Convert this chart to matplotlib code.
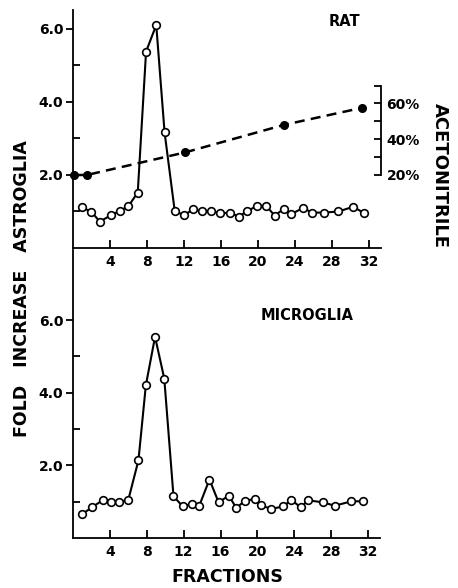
import matplotlib
matplotlib.use("Agg")
import matplotlib.pyplot as plt
from matplotlib.ticker import FixedLocator

# astroglia (rat) - fold increase per fraction
astro_frac = [1.0, 2.0, 2.9, 4.1, 5.1, 6.0, 7.0, 7.9, 9.0, 9.9, 11.0, 12.0, 13.0, 13.9, 14.9,
              15.9, 17.0, 17.9, 18.8, 19.9, 20.9, 21.8, 22.8, 23.6, 24.9, 25.8, 27.1, 28.7, 30.3, 31.5]
astro_fold = [1.11, 0.99, 0.72, 0.90, 1.02, 1.15, 1.52, 5.38, 6.11, 3.17, 1.01, 0.90, 1.06, 1.00, 1.02,
              0.95, 0.97, 0.86, 1.00, 1.16, 1.15, 0.89, 1.07, 0.93, 1.10, 0.97, 0.97, 1.00, 1.13, 0.95]

# microglia - fold increase per fraction
micro_frac = [1.0, 2.1, 3.2, 4.1, 5.0, 6.0, 7.1, 7.9, 8.9, 9.9, 10.9, 11.9, 12.9, 13.7, 14.8,
              15.8, 16.9, 17.7, 18.7, 19.7, 20.4, 21.5, 22.8, 23.7, 24.7, 25.5, 27.1, 28.4, 30.2, 31.5]
micro_fold = [0.66, 0.85, 1.04, 0.98, 0.99, 1.05, 2.14, 4.20, 5.54, 4.39, 1.15, 0.87, 0.94, 0.89, 1.61,
              0.98, 1.17, 0.83, 1.03, 1.07, 0.90, 0.80, 0.87, 1.05, 0.84, 1.04, 0.98, 0.89, 1.01, 1.01]

# acetonitrile gradient
acn_frac = [0.1, 1.5, 12.1, 22.8, 31.2]
acn_pct = [20, 20, 32.6, 48, 57.5]

x_ticks = [4, 8, 12, 16, 20, 24, 28, 32]
y_ticks = [2.0, 4.0, 6.0]
acn_ticks = [20, 40, 60]

FONT = "DejaVu Sans"
plt.rcParams["font.family"] = FONT
plt.rcParams["font.weight"] = "bold"

W, H = 458, 588
fig = plt.figure(figsize=(W / 100, H / 100), dpi=100)


def px_axes(left, top, right, bottom):
    return fig.add_axes([left / W, 1 - bottom / H, (right - left) / W, (bottom - top) / H])


def style(ax, ymax):
    ax.set_xlim(0, 33.3)
    ax.set_ylim(0, ymax)
    ax.patch.set_visible(False)
    for s in ["top", "right"]:
        ax.spines[s].set_visible(False)
    for s in ["left", "bottom"]:
        ax.spines[s].set_linewidth(1.3)
    ax.set_xticks(x_ticks)
    ax.set_xticklabels([str(t) for t in x_ticks])
    ax.set_yticks(y_ticks)
    ax.set_yticklabels(["%.1f" % t for t in y_ticks])
    ax.yaxis.set_minor_locator(FixedLocator([1, 3, 5]))
    ax.tick_params(axis="x", direction="in", length=6, width=1.3, pad=5, labelsize=10)
    ax.tick_params(axis="y", which="major", direction="out", length=5, width=1.3, pad=2, labelsize=10)
    ax.tick_params(axis="y", which="minor", direction="in", length=5, width=1.3)


line_kw = dict(color="black", lw=1.5, marker="o", markersize=5.5,
               markerfacecolor="white", markeredgecolor="black", markeredgewidth=1.2)

# top panel: rat astroglia
ax1 = px_axes(73, 10, 381, 248)
style(ax1, 6.52)
ax1.plot(astro_frac, astro_fold, zorder=3, **line_kw)
ax1.text(344, H - 22, "RAT", transform=None, fontsize=10.5, ha="center", va="center")

# acetonitrile on a right-hand axis
ax2 = ax1.twinx()
k = 40 / 1.96
ax2.set_ylim(20 - 2 * k, 20 + 4.52 * k)
for s in ["top", "left", "bottom"]:
    ax2.spines[s].set_visible(False)
ax2.spines["right"].set_bounds(20, 70)
ax2.spines["right"].set_linewidth(1.3)
ax2.set_yticks(acn_ticks)
ax2.set_yticklabels(["%d%%" % t for t in acn_ticks])
ax2.yaxis.set_minor_locator(FixedLocator([30, 50, 70]))
ax2.tick_params(axis="y", which="both", direction="in", length=5, width=1.3, pad=4, labelsize=10)
ax2.plot(acn_frac, acn_pct, color="black", lw=1.8, dashes=(4, 2.5), marker="o",
         markersize=5.5, markerfacecolor="black", clip_on=False, zorder=4)

# bottom panel: microglia
ax3 = px_axes(73, 250, 380, 538)
style(ax3, 7.93)
ax3.plot(micro_frac, micro_fold, zorder=3, **line_kw)
ax3.text(307, H - 315, "MICROGLIA", transform=None, fontsize=10.5, ha="center", va="center")

fig.text(22 / W, 1 - 289 / H, "FOLD   INCREASE   ASTROGLIA", rotation=90,
         ha="center", va="center", fontsize=12.5)
fig.text(440 / W, 1 - 175 / H, "ACETONITRILE", rotation=-90,
         ha="center", va="center", fontsize=13)
fig.text(227 / W, 1 - 577 / H, "FRACTIONS", ha="center", va="center", fontsize=12.5)

fig.savefig("out.png", dpi=100)
